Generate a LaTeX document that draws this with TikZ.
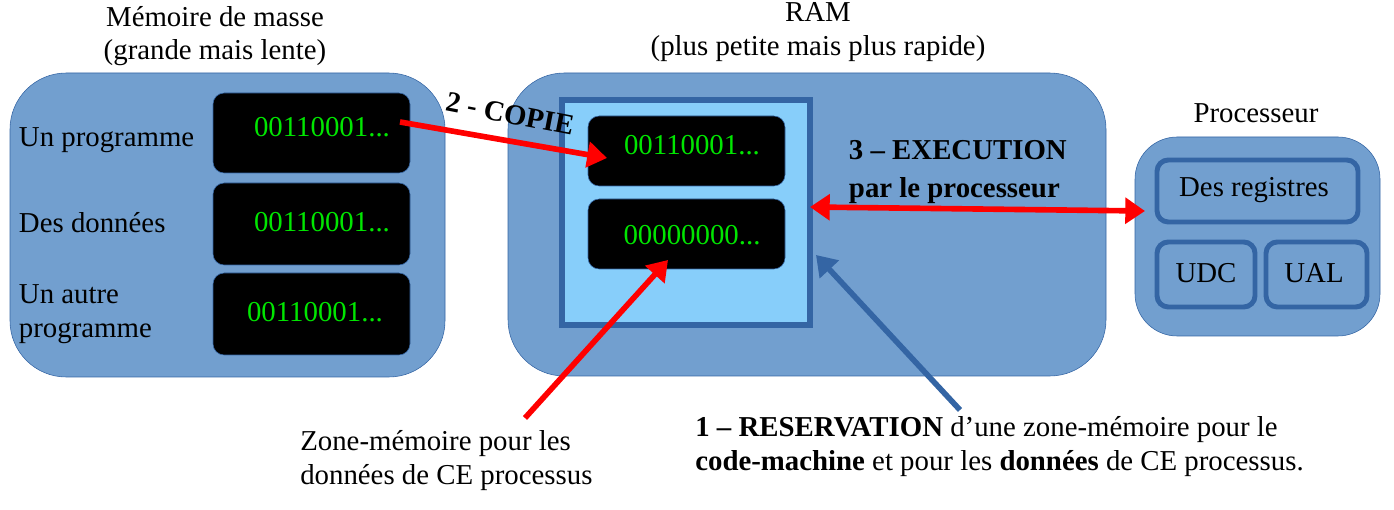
\documentclass[tikz,border=0pt]{standalone}
\usepackage{fontspec}
\setmainfont{Liberation Serif}
\usetikzlibrary{positioning,arrows.meta}
\definecolor{boxblue}{RGB}{114,159,207}
\definecolor{darkblue}{RGB}{52,101,164}
\definecolor{skyfill}{RGB}{135,206,250}
\definecolor{codegreen}{RGB}{0,230,0}
\definecolor{arrowred}{RGB}{255,0,0}
\tikzset{
  zone/.style={draw=darkblue, fill=boxblue, rounded corners=40},
  cell/.style={draw=darkblue, fill=black, rounded corners=8, text=codegreen},
  part/.style={draw=darkblue, line width=3.5pt, rounded corners=8},
  redarrow/.style={draw=arrowred, line width=4pt, -{Triangle[length=14pt,width=18pt]}},
  txt/.style={align=left, anchor=west}
}
\begin{document}
\begin{tikzpicture}[x=0.025cm, y=-0.025cm, font=\fontsize{20.5}{24}\selectfont]
\useasboundingbox (0,0) rectangle (1394,510);
% memoire de masse
\draw[zone] (10,73) rectangle (445,377);
\node[align=center] (mmtitle) at (215,36) {Mémoire de masse\\(grande mais lente)};
\draw[cell] (213,93) rectangle (410,173);
\draw[cell] (213,183) rectangle (410,265);
\draw[cell] (213,273) rectangle (410,355);
\node (code1) at (322,127) {\textcolor{codegreen}{00110001...}};
\node (code2) at (322,222) {\textcolor{codegreen}{00110001...}};
\node (code3) at (315,312) {\textcolor{codegreen}{00110001...}};
\coordinate (codeout) at (400,122);
\node[txt] (prog) at (14,140) {Un programme};
\node[txt] (data) at (14,223) {Des données};
\node[txt] (other) at (14,314) {Un autre\\ programme};
% RAM
\draw[zone] (508,73) rectangle (1106,376);
\node[align=center] (ramtitle) at (818,32) {RAM\\(plus petite mais plus rapide)};
\draw[draw=darkblue, fill=skyfill, line width=4pt] (562,100) rectangle (810,325);
\coordinate (ramedge) at (810,207);
\draw[cell] (588,116) rectangle (785,186);
\draw[cell] (588,199) rectangle (785,269);
\node (ramcode) at (692,145) {\textcolor{codegreen}{00110001...}};
\node (ramdata) at (692,235) {\textcolor{codegreen}{00000000...}};
\coordinate (codein) at (607,158);
\coordinate (datain) at (668,260);
% processeur
\draw[zone, rounded corners=30] (1135,137) rectangle (1380,336);
\node (cputitle) at (1256,113) {Processeur};
\draw[part] (1157,160) rectangle (1358,222);
\draw[part] (1157,242) rectangle (1255,307);
\draw[part] (1266,242) rectangle (1367,307);
\node (reg) at (1254,190) {Des registres};
\node (udc) at (1206,273) {UDC};
\node (ual) at (1314,273) {UAL};
\coordinate (cpuedge) at (1145,211);
% fleches
\draw[redarrow] (codeout) -- (codein);
\node[rotate=-11, font=\fontsize{20.5}{24}\selectfont\bfseries] (copie) at (510,114) {2 - COPIE};
\draw[redarrow, {Triangle[length=14pt,width=18pt]}-{Triangle[length=14pt,width=18pt]}] (ramedge) -- (cpuedge);
\node[txt, font=\fontsize{20.5}{27}\selectfont\bfseries] (exec) at (844,172) {3 – EXECUTION\\par le processeur};
\node[txt, anchor=north west, inner sep=0] (zonetxt) at (300,430) {Zone-mémoire pour les\\données de CE processus};
\coordinate (zonestart) at (525,418);
\draw[redarrow] (zonestart) -- (datain);
\node[txt, anchor=north west, inner sep=0] (restxt) at (695,416) {\textbf{1 – RESERVATION} d’une zone-mémoire pour le\\\textbf{code-machine} et pour les \textbf{données} de CE processus.};
\coordinate (resstart) at (960,410);
\coordinate (resend) at (816,255);
\draw[draw=darkblue, line width=4pt, -{Triangle[length=14pt,width=18pt]}] (resstart) -- (resend);
\end{tikzpicture}
\end{document}
